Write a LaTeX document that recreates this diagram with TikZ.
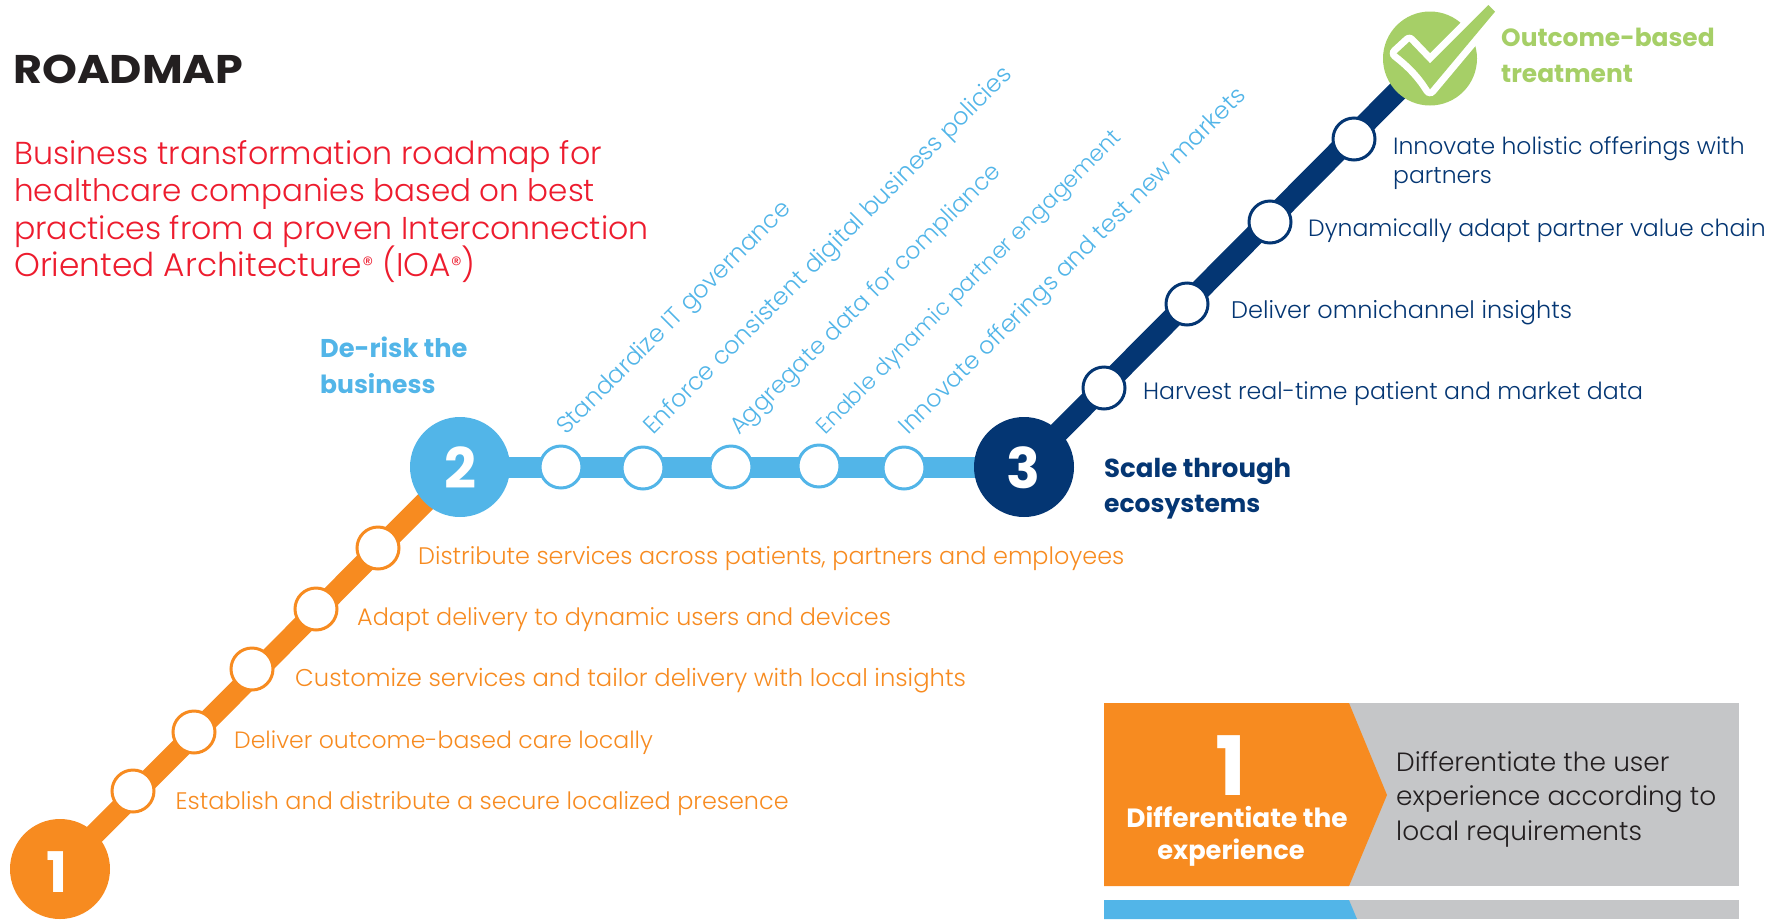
\documentclass[tikz,border=0pt]{standalone}
\usepackage{fontspec}
\usetikzlibrary{backgrounds}
\setmainfont{Poppins}
\newfontfamily\bookf{Poppins Light}
\newfontfamily\boldf{Poppins Bold}
\newfontfamily\titlef[FakeStretch=1.11]{Poppins Bold}
\definecolor{cOrange}{HTML}{F78B20}
\definecolor{cSky}{HTML}{52B5E8}
\definecolor{cNavy}{HTML}{043673}
\definecolor{cGreen}{HTML}{A6CF67}
\definecolor{cRed}{HTML}{ED1C2E}
\definecolor{cGray}{HTML}{C5C6C8}
\definecolor{cInk}{HTML}{231F20}
\newcommand{\fsz}[1]{\fontsize{#1}{#1}\selectfont}
\newcommand{\regm}{\raisebox{0.1em}{\fontsize{22}{22}\selectfont ®}}
\tikzset{
  hub/.style={circle,inner sep=0pt,minimum size=100pt},
  stop/.style={circle,inner sep=0pt,minimum size=42pt,fill=white,draw=#1,line width=3pt},
  rail/.style={draw=#1,line width=21pt},
  sz/.style={font=\bookf\fsz{#1}},
  bz/.style={font=\boldf\fsz{#1}},
  lbl/.style={anchor=base west,inner sep=0pt,text=#1},
  slant/.style={anchor=base west,inner sep=0pt,text=cSky,rotate=45},
  head/.style={anchor=base west,inner sep=0pt,text=#1},
  para/.style={anchor=base west,inner sep=0pt,text=cRed},
  boxt/.style={anchor=base west,inner sep=0pt,text=cInk,sz=26.4},
  boxh/.style={anchor=base,inner sep=0pt,text=white},
  digit/.style={anchor=base,inner sep=0pt,text=white,bz=#1}
}
\begin{document}
\begin{tikzpicture}[x=1pt,y=-1pt]
\useasboundingbox (0,0) rectangle (1786,919);
% hubs
\node[hub,fill=cOrange] (h1) at (60,869) {};
\node[hub,fill=cSky] (h2) at (460,467) {};
\node[hub,fill=cNavy] (h3) at (1024,467) {};
\node[circle,inner sep=0pt,minimum size=94pt,fill=cGreen] (h4) at (1430,58.5) {};
% stops
\node[stop=cOrange] (o1) at (133,791) {};
\node[stop=cOrange] (o2) at (194,732) {};
\node[stop=cOrange] (o3) at (252,669) {};
\node[stop=cOrange] (o4) at (316,609) {};
\node[stop=cOrange] (o5) at (378,548) {};
\node[stop=cSky] (s1) at (561,467) {};
\node[stop=cSky] (s2) at (643,468) {};
\node[stop=cSky] (s3) at (731,467) {};
\node[stop=cSky] (s4) at (819,466) {};
\node[stop=cSky] (s5) at (904,468) {};
\node[stop=cNavy] (n1) at (1104,388) {};
\node[stop=cNavy] (n2) at (1187,304) {};
\node[stop=cNavy] (n3) at (1270,222) {};
\node[stop=cNavy] (n4) at (1354,139) {};
% rails
\begin{pgfonlayer}{background}
\draw[rail=cOrange] (h1.center)--(h2.center);
\draw[rail=cSky] (h2.center)--(h3.center);
\draw[rail=cNavy] (h3.center)--(h4.center);
\end{pgfonlayer}
% hub digits
\node[digit=56] (d1) at (57,892) {1};
\node[digit=56] (d2) at (460,488) {2};
\node[digit=56] (d3) at (1023,488) {3};
% check mark
\draw[fill=cGreen,draw=white,line width=14pt,line join=round] (1396.7,53.3)--(1409.3,41.7)--(1430,63.3)--(1488.3,5)--(1495,11.7)--(1430,89.3) .. controls (1420,73) and (1408,62) .. cycle;
\fill[cGreen] (1396.7,53.3)--(1409.3,41.7)--(1430,63.3)--(1488.3,5)--(1495,11.7)--(1430,89.3) .. controls (1420,73) and (1408,62) .. cycle;
% titles
\node[anchor=base west,inner sep=0pt,text=cInk,font=\titlef\fsz{40}] (title) at (13,83) {ROADMAP};
\node[para,sz=31.7] (p1) at (14,164) {Business transformation roadmap for};
\node[para,sz=31] (p2) at (14,201) {healthcare companies based on best};
\node[para,sz=31.6] (p3) at (14,239) {practices from a proven Interconnection};
\node[para,sz=32.8] (p4) at (14,276) {Oriented Architecture\regm{} (IOA\regm{})};
\node[head=cSky,bz=25.7] (t2a) at (320,357) {De-risk the};
\node[head=cSky,bz=25] (t2b) at (320,393) {business};
\node[head=cNavy,bz=26] (t3a) at (1104,477) {Scale through};
\node[head=cNavy,bz=25] (t3b) at (1104,512) {ecosystems};
\node[head=cGreen,bz=24.9] (t4a) at (1501,46) {Outcome-based};
\node[head=cGreen,bz=24.9] (t4b) at (1501,82) {treatment};
% orange labels
\node[lbl=cOrange,sz=23.9] (lo5) at (418,564) {Distribute services across patients, partners and employees};
\node[lbl=cOrange,sz=23.9] (lo4) at (357,625) {Adapt delivery to dynamic users and devices};
\node[lbl=cOrange,sz=24.25] (lo3) at (295,686) {Customize services and tailor delivery with local insights};
\node[lbl=cOrange,sz=23.55] (lo2) at (234,748) {Deliver outcome-based care locally};
\node[lbl=cOrange,sz=23.9] (lo1) at (175.5,809) {Establish and distribute a secure localized presence};
% navy labels
\node[lbl=cNavy,sz=23.6] (ln1) at (1143,399) {Harvest real-time patient and market data};
\node[lbl=cNavy,sz=24] (ln2) at (1231,318) {Deliver omnichannel insights};
\node[lbl=cNavy,sz=23.55] (ln3) at (1308,236) {Dynamically adapt partner value chain};
\node[lbl=cNavy,sz=23.5] (ln4a) at (1393,154) {Innovate holistic offerings with};
\node[lbl=cNavy,sz=23.5] (ln4b) at (1393,183) {partners};
% slanted labels
\node[slant,sz=24.1] (ls1) at (566,436) {Standardize IT governance};
\node[slant,sz=24.2] (ls2) at (653,436) {Enforce consistent digital business policies};
\node[slant,sz=23.5] (ls3) at (739,436) {Aggregate data for compliance};
\node[slant,sz=22.4] (ls4) at (825,436) {Enable dynamic partner engagement};
\node[slant,sz=24] (ls5) at (908,436) {Innovate offerings and test new markets};
% legend box 1
\fill[cGray] (1104,703) rectangle (1739,886);
\fill[cOrange] (1104,703)--(1349,703)--(1387,795)--(1349,886)--(1104,886)--cycle;
\node[digit=82] (b1n) at (1231,795) {1};
\node[boxh,bz=26.4] (b1a) at (1237,827) {Differentiate the};
\node[boxh,bz=25.7] (b1b) at (1231,859) {experience};
\node[boxt] (b1c) at (1396,771) {Differentiate the user};
\node[boxt] (b1d) at (1396,805) {experience according to};
\node[boxt] (b1e) at (1396,840) {local requirements};
% legend box 2
\fill[cGray] (1104,900) rectangle (1739,919);
\fill[cSky] (1104,900)--(1349,900)--(1357,919)--(1104,919)--cycle;
\end{tikzpicture}
\end{document}
